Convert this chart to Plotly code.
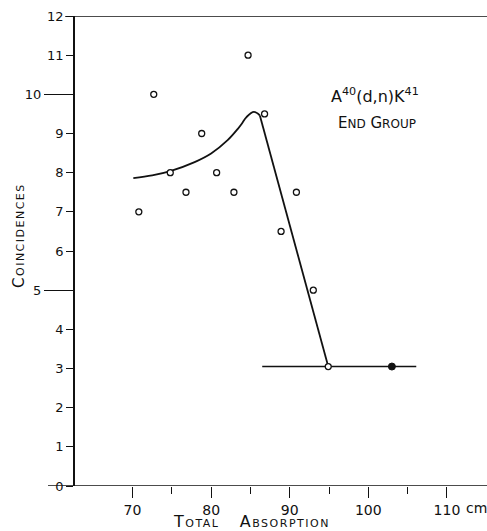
import plotly.graph_objects as go

# Open-circle data points (total absorption cm, coincidences)
open_x = [70.8, 72.7, 74.8, 76.8, 78.8, 80.7, 82.9, 84.7, 86.8, 88.9, 90.85, 93.0, 94.9]
open_y = [7.0, 10.0, 8.0, 7.5, 9.0, 8.0, 7.5, 11.0, 9.5, 6.5, 7.5, 5.0, 3.05]

# Filled point
filled_x = [103.0]
filled_y = [3.05]

# Smooth rising part of the drawn curve
curve_x = [70.1, 72.5, 74.8, 77.9, 80.0, 82.1, 83.4, 83.9, 84.5, 85.45, 86.2]
curve_y = [7.86, 7.93, 8.04, 8.27, 8.49, 8.83, 9.12, 9.25, 9.42, 9.55, 9.46]

# Straight falling part
fall_x = [86.2, 94.9]
fall_y = [9.46, 3.05]

# Background level line
bg_x = [86.5, 106.1]
bg_y = [3.05, 3.05]

x_ticks = [70, 80, 90, 100, 110]
x_tick_text = ["70", "80", "90", "100", "110"]
x_minor = [75, 85, 95, 105]
y_ticks_short = [0, 1, 2, 3, 4, 6, 7, 8, 9, 11, 12]
y_ticks_long = [5, 10]

FONT = "DejaVu Sans"
BLACK = "#111111"
SP = "letter-spacing:1.5px"

fig = go.Figure()

fig.add_trace(go.Scatter(x=curve_x, y=curve_y, mode="lines",
                         line=dict(color=BLACK, width=1.8, shape="spline", smoothing=1.0),
                         hoverinfo="skip", showlegend=False))
fig.add_trace(go.Scatter(x=fall_x, y=fall_y, mode="lines",
                         line=dict(color=BLACK, width=1.8),
                         hoverinfo="skip", showlegend=False))
fig.add_trace(go.Scatter(x=bg_x, y=bg_y, mode="lines",
                         line=dict(color=BLACK, width=1.5),
                         hoverinfo="skip", showlegend=False))
fig.add_trace(go.Scatter(x=open_x, y=open_y, mode="markers",
                         marker=dict(symbol="circle", size=6, color="white",
                                     line=dict(color=BLACK, width=1.3)),
                         showlegend=False))
fig.add_trace(go.Scatter(x=filled_x, y=filled_y, mode="markers",
                         marker=dict(symbol="circle", size=7, color=BLACK,
                                     line=dict(color=BLACK, width=1)),
                         showlegend=False))
# invisible trace on y2 so the overlay axis is drawn
fig.add_trace(go.Scatter(x=[None], y=[None], yaxis="y2", showlegend=False, hoverinfo="skip"))

fig.update_layout(
    width=487, height=531,
    margin=dict(l=75, r=0, t=16, b=45),
    paper_bgcolor="white", plot_bgcolor="white",
    font=dict(family=FONT, color=BLACK, size=13),
    xaxis=dict(range=[62.68, 115.1], showgrid=False, zeroline=False, showline=False,
               tickmode="array", tickvals=x_ticks, ticktext=x_tick_text,
               ticks="outside", ticklen=11, tickwidth=1.3, tickcolor=BLACK,
               tickfont=dict(size=14, family=FONT),
               minor=dict(tickmode="array", tickvals=x_minor, ticks="outside",
                          ticklen=7, tickwidth=1.3, tickcolor=BLACK)),
    yaxis=dict(range=[0, 12], showgrid=False, zeroline=False, showline=True,
               linecolor=BLACK, linewidth=1.5,
               tickmode="array", tickvals=y_ticks_short,
               ticktext=[str(v) for v in y_ticks_short],
               ticks="outside", ticklen=7, tickwidth=1.3, tickcolor=BLACK,
               tickfont=dict(size=13, family=FONT)),
    yaxis2=dict(range=[0, 12], overlaying="y", side="left", anchor="x",
                showgrid=False, zeroline=False, showline=False,
                tickmode="array", tickvals=y_ticks_long,
                ticktext=[str(v) for v in y_ticks_long],
                ticks="outside", ticklen=30, tickwidth=1.3, tickcolor=BLACK,
                tickfont=dict(size=13, family=FONT)),
    shapes=[
        dict(type="line", xref="paper", yref="y", x0=-10/412, x1=1, y0=12, y1=12,
             line=dict(color=BLACK, width=1.5)),
        dict(type="line", xref="paper", yref="y", x0=-27/412, x1=1, y0=0, y1=0,
             line=dict(color=BLACK, width=1.5)),
    ],
    annotations=[
        dict(text="A<sup>40</sup>(d,n)K<sup>41</sup>", x=100.8, y=9.98, xref="x", yref="y",
             showarrow=False, font=dict(size=16, family=FONT)),
        dict(text="E<span style='font-size:12px'>ND</span> G<span style='font-size:12px'>ROUP</span>",
             x=101.1, y=9.27, xref="x", yref="y", showarrow=False,
             font=dict(size=15, family=FONT)),
        dict(text=f"<span style='{SP}'>T</span><span style='font-size:11px;{SP}'>OTAL</span>"
                  f"    <span style='{SP}'>A</span><span style='font-size:11px;{SP}'>BSORPTION</span>",
             x=(251-75)/412, y=0, xref="paper", yref="paper", yshift=-35,
             xanchor="center", yanchor="middle",
             showarrow=False, font=dict(size=16, family=FONT)),
        dict(text=f"<span style='{SP}'>C</span><span style='font-size:11px;{SP}'>OINCIDENCES</span>",
             x=0, y=(486-236)/470, xref="paper", yref="paper", xshift=-56,
             xanchor="center", yanchor="middle",
             textangle=-90, showarrow=False, font=dict(size=15, family=FONT)),
        dict(text="cm", x=113.7, y=0, xref="x", yref="paper", yshift=-22,
             xanchor="center", yanchor="middle",
             showarrow=False, font=dict(size=14, family=FONT)),
    ],
)

fig.write_html("out.html")
